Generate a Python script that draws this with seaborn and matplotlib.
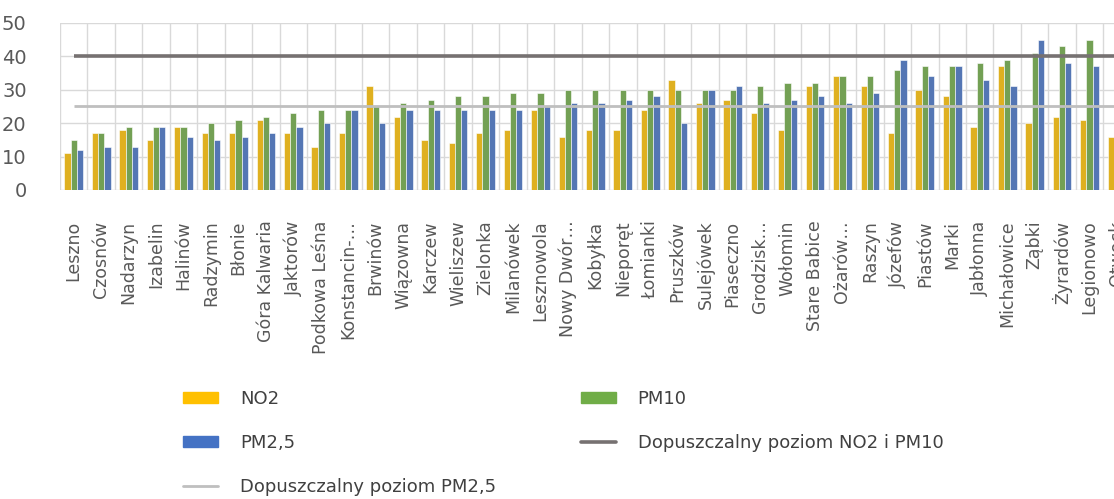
import numpy as np
import pandas as pd
import matplotlib.pyplot as plt
import seaborn as sns
from matplotlib.patches import Patch
from matplotlib.lines import Line2D

gminy = ['Leszno', 'Czosnów', 'Nadarzyn', 'Izabelin', 'Halinów', 'Radzymin', 'Błonie',
         'Góra Kalwaria', 'Jaktorów', 'Podkowa Leśna', 'Konstancin-…', 'Brwinów', 'Wiązowna',
         'Karczew', 'Wieliszew', 'Zielonka', 'Milanówek', 'Lesznowola', 'Nowy Dwór…', 'Kobyłka',
         'Nieporęt', 'Łomianki', 'Pruszków', 'Sulejówek', 'Piaseczno', 'Grodzisk…', 'Wołomin',
         'Stare Babice', 'Ożarów…', 'Raszyn', 'Józefów', 'Piastów', 'Marki', 'Jabłonna',
         'Michałowice', 'Ząbki', 'Żyrardów', 'Legionowo', 'Otwock']
no2 = [11, 17, 18, 15, 19, 17, 17, 21, 17, 13, 17, 31, 22, 15, 14, 17, 18, 24, 16, 18,
       18, 24, 33, 26, 27, 23, 18, 31, 34, 31, 17, 30, 28, 19, 37, 20, 22, 21, 16]
pm10 = [15, 17, 19, 19, 19, 20, 21, 22, 23, 24, 24, 25, 26, 27, 28, 28, 29, 29, 30, 30,
        30, 30, 30, 30, 30, 31, 32, 32, 34, 34, 36, 37, 37, 38, 39, 41, 43, 45, 46]
pm25 = [12, 13, 13, 19, 16, 15, 16, 17, 19, 20, 24, 20, 24, 24, 24, 24, 24, 25, 26, 26,
        27, 28, 20, 30, 31, 26, 27, 28, 26, 29, 39, 34, 37, 33, 31, 45, 38, 37, 33]
limit_no2_pm10 = 40
limit_pm25 = 25

serie = ['NO2', 'PM10', 'PM2,5']
kolory = ['#FFC000', '#70AD47', '#4472C4']

df = pd.DataFrame({'gmina': gminy * 3,
                   'seria': [s for s in serie for _ in gminy],
                   'wartosc': no2 + pm10 + pm25})

sns.set_style('white')
plt.rcParams['font.family'] = ['DejaVu Sans']

fig = plt.figure(figsize=(11.14, 4.99), dpi=100)
ax = fig.add_axes([60 / 1114, 1 - 190 / 499, 1 - 60 / 1114, 167 / 499])

sns.barplot(data=df, x='gmina', y='wartosc', hue='seria', order=gminy, hue_order=serie,
            palette=kolory, width=0.68, gap=0, edgecolor='white', linewidth=0.4,
            legend=False, ax=ax, zorder=2)

n = len(gminy)
ax.plot(range(n), [limit_no2_pm10] * n, color='#767171', lw=2.6, zorder=3, solid_capstyle='butt')
ax.plot(range(n), [limit_pm25] * n, color='#BFBFBF', lw=2.0, zorder=3, solid_capstyle='butt')

ax.set_yticks(range(0, 51, 10))
ax.set_xticks(np.arange(-0.5, n, 1), minor=True)
ax.grid(False)
ax.grid(True, which='major', axis='y', color='#D9D9D9', lw=1, zorder=0)
ax.grid(True, which='minor', axis='x', color='#D9D9D9', lw=1, zorder=0)
for s in ax.spines.values():
    s.set_visible(False)
ax.set_axisbelow(True)

ax.set_xlabel('')
ax.set_ylabel('')
ax.tick_params(axis='y', length=0, pad=24, labelsize=14, labelcolor='#595959')
ax.tick_params(axis='x', which='both', length=0, pad=22, labelsize=12.5, labelcolor='#595959')
plt.setp(ax.get_xticklabels(), rotation=90, ha='center', va='top')

# wykres w oryginale jest uciety z prawej strony
ax.set_ylim(0, 50)
ax.set_xlim(-0.5, 37.89)

# etykieta ostatniej gminy (poza zakresem osi, widoczna tylko czesciowo)
ax.annotate(gminy[-1], xy=(n - 1, 0), xycoords=('data', 'axes fraction'),
            xytext=(0, -22), textcoords='offset points', rotation=90,
            ha='center', va='top', fontsize=12.5, color='#595959', annotation_clip=False)

uchwyty = [Patch(color=kolory[0]), Patch(color=kolory[2]),
           Line2D([], [], color='#BFBFBF', lw=2.0),
           Patch(color=kolory[1]), Line2D([], [], color='#767171', lw=2.6)]
etykiety = ['NO2', 'PM2,5', 'Dopuszczalny poziom PM2,5', 'PM10', 'Dopuszczalny poziom NO2 i PM10']
fig.legend(uchwyty, etykiety, loc='upper left', bbox_to_anchor=(183 / 1114, 1 - 390 / 499),
           ncol=2, frameon=False, fontsize=13, labelcolor='#404040', borderpad=0,
           borderaxespad=0, handlelength=1.95, handleheight=0.55, handletextpad=1.2,
           columnspacing=4.7, labelspacing=1.45)

fig.savefig('out.png', dpi=100)
